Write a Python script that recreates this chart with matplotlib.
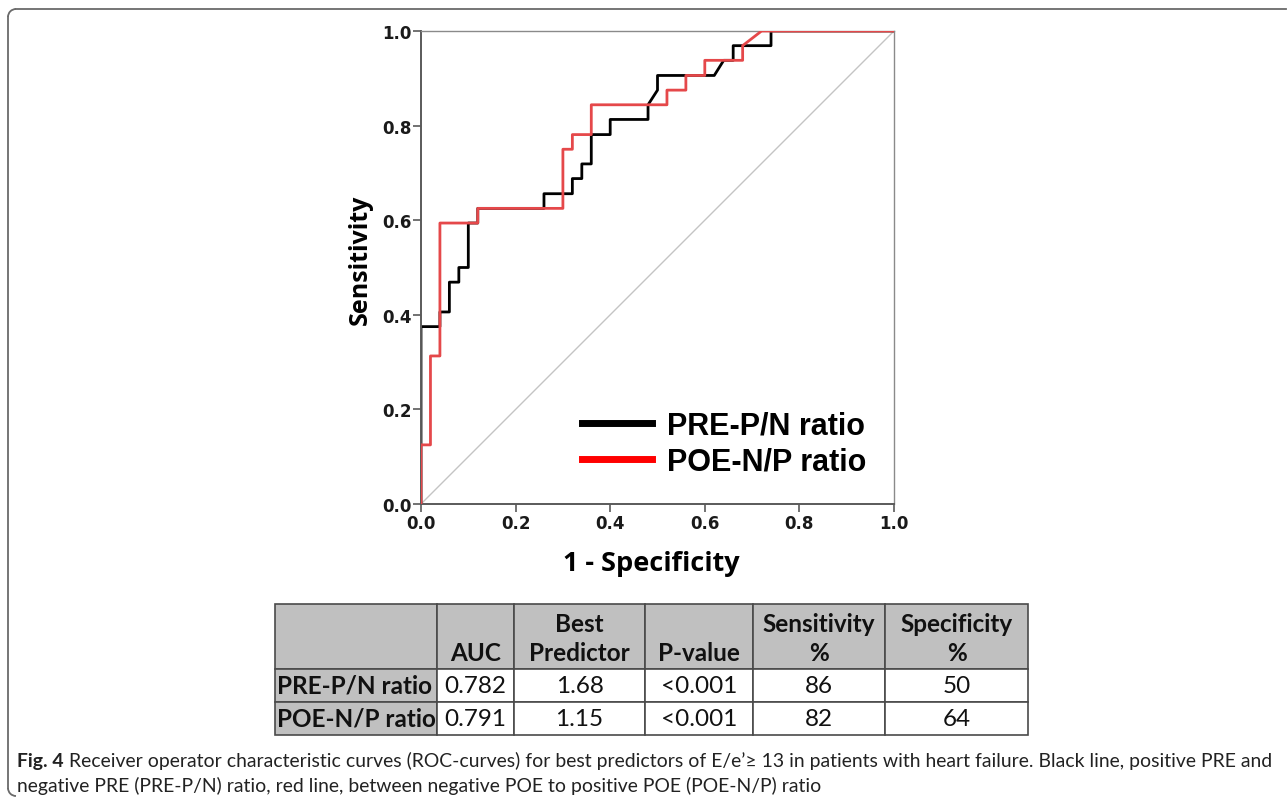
import matplotlib.pyplot as plt
from matplotlib.lines import Line2D
from matplotlib.patches import Rectangle, Arc

# ROC curves: (1 - specificity, sensitivity) vertices
pre_fpr = [0.0, 0.0, 0.04, 0.04, 0.06, 0.06, 0.08, 0.08, 0.10, 0.10, 0.12, 0.12,
           0.26, 0.26, 0.32, 0.32, 0.34, 0.34, 0.36, 0.36, 0.40, 0.40, 0.48, 0.48,
           0.50, 0.50, 0.62, 0.64, 0.66, 0.66, 0.74, 0.74, 1.0]
pre_tpr = [0.0, 0.375, 0.375, 0.406, 0.406, 0.469, 0.469, 0.5, 0.5, 0.594, 0.594, 0.625,
           0.625, 0.656, 0.656, 0.688, 0.688, 0.719, 0.719, 0.781, 0.781, 0.813, 0.813, 0.844,
           0.875, 0.906, 0.906, 0.938, 0.938, 0.969, 0.969, 1.0, 1.0]

poe_fpr = [0.0, 0.0, 0.02, 0.02, 0.04, 0.04, 0.12, 0.12, 0.30, 0.30, 0.32, 0.32,
           0.36, 0.36, 0.52, 0.52, 0.56, 0.56, 0.60, 0.60, 0.68, 0.68, 0.72, 1.0]
poe_tpr = [0.0, 0.125, 0.125, 0.313, 0.313, 0.594, 0.594, 0.625, 0.625, 0.75, 0.75, 0.781,
           0.781, 0.844, 0.844, 0.875, 0.875, 0.906, 0.906, 0.938, 0.938, 0.969, 1.0, 1.0]

series_names = ['PRE-P/N ratio', 'POE-N/P ratio']
ticks = [0.0, 0.2, 0.4, 0.6, 0.8, 1.0]

# summary table
table_header = ['', 'AUC', 'Best\nPredictor', 'P-value', 'Sensitivity\n%', 'Specificity\n%']
auc = ['0.782', '0.791']
best_predictor = ['1.68', '1.15']
p_value = ['<0.001', '<0.001']
sensitivity = ['86', '82']
specificity = ['50', '64']

caption_bold = 'Fig. 4'
caption_line1 = (' Receiver operator characteristic curves (ROC-curves) for best predictors of '
                 'E/e\u2019\u2265 13 in patients with heart failure. Black line, positive PRE and')
caption_line2 = ('negative PRE (PRE-P/N) ratio, red line, between negative POE to positive POE '
                 '(POE-N/P) ratio')

W, H = 1287, 803
fig = plt.figure(figsize=(W / 100, H / 100), dpi=100)

# background layer in pixel coordinates (frame, table, caption)
bg = fig.add_axes([0, 0, 1, 1])
bg.set_xlim(0, W)
bg.set_ylim(H, 0)
bg.axis('off')

frame_col = '#6a6a6a'
bg.plot([16, 1286], [10, 10], color=frame_col, lw=1.3)
bg.plot([8, 8], [18, 789], color=frame_col, lw=1.3)
bg.add_patch(Arc((16, 18), 16, 16, theta1=180, theta2=270, color=frame_col, lw=1.3))
bg.add_patch(Arc((16, 789), 16, 16, theta1=90, theta2=180, color=frame_col, lw=1.3))

# ROC axes
ax = fig.add_axes([421 / W, 1 - 505 / H, 473 / W, 473 / H])
ax.plot([0, 1], [0, 1], color='#c4c4c4', lw=1.0, zorder=1)
ax.plot(pre_fpr, pre_tpr, color='black', lw=2.0, zorder=2)
ax.plot(poe_fpr, poe_tpr, color='#e5484a', lw=2.0, zorder=3)
ax.set_xlim(0, 1)
ax.set_ylim(0, 1)
ax.set_xticks(ticks)
ax.set_yticks(ticks)
ax.set_xticklabels([f'{t:.1f}' for t in ticks])
ax.set_yticklabels([f'{t:.1f}' for t in ticks])
for side in ['left', 'bottom']:
    ax.spines[side].set_color('#5a5a5a')
    ax.spines[side].set_linewidth(1.4)
for side in ['top', 'right']:
    ax.spines[side].set_color('#8a8a8a')
    ax.spines[side].set_linewidth(1.0)
ax.tick_params(direction='out', length=6, width=1.2, color='#5a5a5a', pad=1,
               labelsize=12)
for lab in ax.get_xticklabels() + ax.get_yticklabels():
    lab.set_fontweight('bold')
    lab.set_color('#1a1a1a')
ax.set_xlabel('1 - Specificity', fontsize=19.5, fontweight='bold', family='Open Sans')
ax.set_ylabel('Sensitivity', fontsize=18, fontweight='bold', family='Open Sans')
ax.xaxis.set_label_coords(0.486, -0.098)
ax.yaxis.set_label_coords(-0.101, 0.519)

handles = [Line2D([], [], color='black', lw=5), Line2D([], [], color='#ff0000', lw=5)]
ax.legend(handles, series_names, loc='upper left', bbox_to_anchor=(0.34, 0.198),
          frameon=False, borderpad=0, borderaxespad=0, handlelength=2.3,
          handletextpad=0.5, labelspacing=0.2,
          prop={'family': 'Liberation Sans', 'weight': 'bold', 'size': 22})

# table
col_edges = [275, 437, 514, 645, 753, 885, 1028]
row_edges = [605, 670, 703, 736]
grey = '#c0c0c0'
edge = '#4a4a4a'
tfont = 'Lato'
tsize = 17.5

rows = [[series_names[i], auc[i], best_predictor[i], p_value[i], sensitivity[i], specificity[i]]
        for i in range(len(series_names))]

for c in range(len(table_header)):
    x0, x1 = col_edges[c], col_edges[c + 1]
    bg.add_patch(Rectangle((x0, row_edges[0]), x1 - x0, row_edges[1] - row_edges[0],
                           facecolor=grey, edgecolor=edge, lw=1.2))
    bg.text((x0 + x1) / 2, row_edges[1] - 5, table_header[c], ha='center', va='bottom',
            multialignment='center', linespacing=1.3, fontsize=tsize, fontweight='bold',
            family=tfont, color='#111111')
    for r, row in enumerate(rows):
        y0, y1 = row_edges[r + 1], row_edges[r + 2]
        bg.add_patch(Rectangle((x0, y0), x1 - x0, y1 - y0,
                               facecolor=grey if c == 0 else 'white', edgecolor=edge, lw=1.2))
        if c == 0:
            bg.text(x0 + 2, (y0 + y1) / 2, row[c], ha='left', va='center', fontsize=tsize,
                    fontweight='bold', family=tfont, color='#111111')
        else:
            bg.text((x0 + x1) / 2, (y0 + y1) / 2, row[c], ha='center', va='center',
                    fontsize=tsize, family=tfont, color='#111111')

# caption, size fitted so the first line ends near the right edge like the reference
cap_font = 'Lato'
cap_size = 13.0
t0 = bg.text(17, 767, caption_bold, fontsize=cap_size, fontweight='bold', family=cap_font,
             va='baseline', ha='left', color='#222222')
t1 = bg.annotate(caption_line1, xy=(1, 0), xycoords=t0, va='bottom', ha='left',
                 fontsize=cap_size, family=cap_font, color='#222222')
t2 = bg.text(17, 792, caption_line2, fontsize=cap_size, family=cap_font, va='baseline',
             ha='left', color='#222222')
for _ in range(3):
    fig.canvas.draw()
    r = fig.canvas.get_renderer()
    right = t1.get_window_extent(r).x1
    cap_size *= (1270 - 17) / (right - 17)
    for t in (t0, t1, t2):
        t.set_fontsize(cap_size)

fig.savefig('out.png', dpi=100)
